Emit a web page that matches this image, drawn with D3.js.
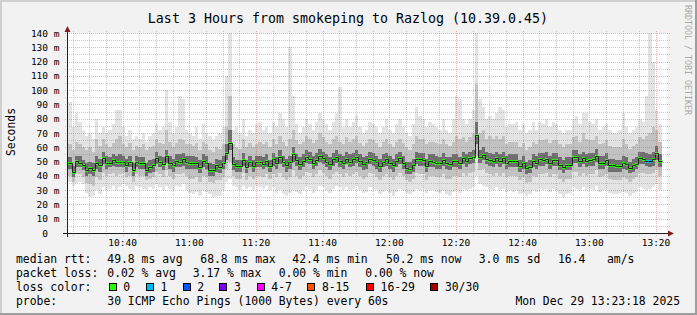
<!DOCTYPE html>
<html>
<head>
<meta charset="utf-8">
<script src="https://cdn.jsdelivr.net/npm/d3@7/dist/d3.min.js"></script>
<style>
body { margin: 0; background: #f2f2f2; }
svg { display: block; }
text { font-family: "DejaVu Sans Mono", monospace; fill: #000; }
</style>
</head>
<body>
<svg id="chart" width="697" height="315"></svg>
<script>
// one value per 60 s step, first step at 10:23:40
var median = [
  48.8, 42.4, 50.2, 49.3, 47.6, 44.1, 45.5, 44.1, 49.3, 47.4,
  52.3, 49.3, 49.3, 50.9, 49.8, 49.8, 49.8, 47.4, 49.8, 44.1,
  49.8, 48.8, 49.3, 44.1, 46.0, 47.4, 52.5, 49.8, 48.3, 53.9,
  49.3, 47.4, 50.6, 49.8, 51.6, 49.8, 49.3, 49.3, 49.3, 46.0,
  50.2, 49.3, 44.1, 44.1, 47.4, 46.4, 48.8, 56.2, 63.3, 48.3,
  46.9, 46.9, 51.1, 46.0, 49.8, 46.9, 49.8, 49.8, 48.5, 50.5,
  47.0, 51.5, 49.0, 53.0, 50.0, 47.5, 49.5, 55.0, 51.0, 48.0,
  50.5, 53.5, 52.0, 49.0, 51.0, 54.0, 52.5, 50.0, 48.5, 51.5,
  53.0, 50.5, 49.0, 52.0, 50.0, 51.5, 53.0, 50.5, 48.0, 49.5,
  52.0, 51.0, 49.5, 47.0, 50.0, 51.5, 49.0, 47.5, 50.5, 52.5,
  48.8, 45.5, 45.1, 47.6, 52.0, 51.6, 51.1, 46.9, 50.2, 49.8,
  49.3, 48.8, 51.1, 48.8, 48.1, 50.2, 50.2, 48.8, 52.5, 50.6,
  52.5, 53.0, 68.8, 53.0, 54.6, 52.0, 51.1, 50.6, 52.5, 50.2,
  52.3, 49.3, 50.6, 50.2, 50.2, 46.9, 49.3, 45.3, 46.4, 50.6,
  48.8, 51.6, 51.1, 52.0, 49.3, 51.1, 51.1, 47.8, 46.0, 47.8,
  47.8, 53.0, 53.0, 50.2, 52.5, 50.2, 51.1, 51.6, 53.9, 48.8,
  49.3, 51.1, 47.4, 47.4, 46.9, 46.9, 49.3, 48.3, 45.5, 47.4,
  48.3, 52.5, 52.0, 50.6, 50.2, 51.6, 55.7, 50.2
];
// lost pings per step
var loss = [
  0,0,0,0,0,0,0,0,0,0, 0,0,0,0,0,0,0,0,0,0, 0,0,0,0,0,0,0,0,0,0,
  0,0,0,0,0,0,0,0,0,0, 0,0,0,0,0,0,0,0,0,0, 0,0,0,0,0,0,0,0,0,0,
  0,0,0,0,0,0,0,0,0,0, 0,0,0,0,0,0,0,0,0,0, 0,0,0,0,0,0,0,0,0,0,
  0,0,0,0,0,0,0,0,0,0, 0,0,0,0,0,0,0,0,0,0, 0,0,0,0,0,0,0,0,0,0,
  0,0,0,0,0,0,0,0,0,0, 0,0,0,0,0,0,0,0,0,0, 0,0,0,0,0,0,0,0,0,0,
  0,0,0,0,0,0,0,0,0,0, 0,0,0,0,0,0,0,0,0,0, 0,0,0,1,1,0,0,0
];
// smoke: fastest / slowest ping and inner percentiles
var pingMin = [
  36,33,35,36,34,28,25,26,30,27, 32,30,31,33,30,32,34,33,31,30,
  33,32,31,30,32,31,34,32,30,33, 31,30,33,32,34,30,28,27,29,26,
  30,29,27,25,26,26,30,36,38,33, 32,30,33,31,32,30,33,32,31,33,
  30,32,28,30,27,26,28,30,29,27, 30,32,31,28,30,33,32,30,28,31,
  33,32,30,32,30,31,33,30,28,29, 32,31,30,27,29,30,28,26,29,31,
  30,28,27,29,31,30,31,28,30,30, 29,28,30,27,26,29,30,28,31,30,
  31,32,40,34,33,32,31,30,32,30, 31,29,30,29,30,27,28,26,27,30,
  29,31,30,31,29,31,30,27,25,27, 28,32,31,30,32,30,31,30,33,29,
  30,31,28,27,27,28,29,28,26,28, 29,32,31,30,31,32,34,30
];
var ping15 = [
  40,36,42,41,39,35,34,33,39,37, 42,40,41,42,40,41,42,39,40,36,
  41,40,40,37,38,39,43,41,39,44, 40,38,41,41,42,40,38,38,39,36,
  40,39,36,35,37,37,39,45,50,40, 38,38,42,37,40,38,40,40,39,41,
  38,41,39,42,39,37,39,44,40,38, 40,43,42,39,41,44,42,40,38,41,
  43,41,39,42,40,41,43,40,38,39, 42,41,39,37,40,41,39,37,40,42,
  40,37,36,38,42,41,41,37,40,40, 39,39,41,38,38,40,40,39,42,40,
  42,43,54,44,45,42,41,40,42,40, 42,39,40,40,40,37,39,35,36,40,
  39,41,41,42,39,41,41,38,36,38, 38,43,43,40,42,40,41,41,44,39,
  40,41,38,37,37,37,39,38,36,38, 39,42,42,41,41,42,45,40
];
var ping35 = [
  45,39,46,46,44,40,41,40,45,43, 48,45,46,47,46,46,46,43,46,40,
  46,45,45,40,42,43,48,46,44,49, 45,43,46,46,47,45,45,45,45,42,
  46,45,40,40,43,42,45,51,58,44, 43,43,47,42,46,43,46,46,45,46,
  43,47,45,48,46,43,45,50,47,44, 46,49,48,45,47,50,48,46,44,47,
  49,46,45,48,46,47,49,46,44,45, 48,47,45,43,46,47,45,43,46,48,
  45,41,41,43,48,47,47,43,46,46, 45,45,47,45,44,46,46,45,48,46,
  48,49,62,49,51,48,47,46,48,46, 48,45,46,46,46,43,45,41,42,46,
  45,47,47,48,45,47,47,44,42,44, 44,49,49,46,48,46,47,47,50,45,
  45,47,43,43,43,43,45,44,42,43, 45,48,48,47,46,47,51,46
];
var ping65 = [
  53,47,54,54,51,49,50,49,54,52, 57,54,53,55,54,55,54,52,54,49,
  54,53,53,49,51,52,57,54,53,58, 54,52,55,55,56,54,54,54,53,51,
  55,54,49,48,52,51,54,62,72,53, 51,51,56,51,54,51,54,54,53,55,
  51,56,53,58,54,52,54,60,55,53, 55,58,57,54,56,59,57,55,53,56,
  58,55,54,57,55,56,58,55,53,54, 57,56,54,52,55,56,54,52,55,57,
  54,50,50,52,57,56,56,52,55,55, 54,53,56,53,53,55,55,53,57,55,
  57,58,78,58,60,57,56,55,57,55, 57,54,55,55,55,51,54,50,51,55,
  54,56,56,57,54,56,56,53,51,53, 53,58,58,55,57,55,56,56,59,54,
  54,56,52,52,51,51,54,53,50,52, 53,57,57,56,55,57,61,55
];
var ping85 = [
  62,58,64,62,60,58,60,57,66,61, 66,62,60,63,66,68,62,60,63,58,
  61,60,62,58,60,61,66,63,62,72, 64,60,63,66,65,62,62,61,63,58,
  64,62,58,57,60,59,62,74,96,62, 60,59,66,60,63,60,62,64,62,64,
  60,66,62,68,64,61,66,72,65,62, 64,68,66,63,65,70,67,64,62,66,
  68,64,62,67,64,66,68,63,61,63, 66,65,63,60,64,66,62,60,64,66,
  63,60,58,62,68,66,66,62,64,64, 63,62,66,62,61,64,68,66,67,64,
  67,70,104,70,72,66,68,66,68,66, 68,62,64,64,64,60,63,58,60,64,
  62,65,65,66,63,65,65,62,60,62, 62,67,68,64,70,66,65,65,68,62,
  63,65,61,60,60,60,66,62,59,61, 62,67,66,68,70,74,72,64
];
var pingMax = [
  92,74,84,78,72,68,70,66,80,70, 74,70,72,76,86,86,74,68,72,66,
  68,66,70,64,68,70,76,72,74,100, 78,70,74,96,94,72,70,68,74,66,
  76,70,68,66,68,70,74,110,140,72, 74,70,80,68,72,70,76,78,72,74,
  70,78,74,84,80,74,130,96,76,70, 74,80,76,72,78,84,80,76,72,78,
  84,102,74,80,74,78,82,74,70,72, 78,76,74,70,74,80,72,70,76,80,
  74,70,68,76,88,82,80,74,78,76, 74,72,80,72,70,80,96,94,80,76,
  80,86,140,94,88,80,82,80,84,88, 86,74,76,76,78,72,76,70,72,78,
  72,78,76,80,74,78,76,72,70,72, 72,80,82,76,84,84,78,76,80,72,
  74,76,72,70,70,72,84,74,70,72, 74,80,78,96,140,120,86,76
];

var lossLabels = ["0", "1", "2", "3", "4-7", "8-15", "16-29", "30/30"];
var lossColors = ["#26ff00", "#00b8ff", "#0059ff", "#7e00ff", "#ff00ff", "#ff5500", "#ff0000", "#a00000"];
var rttStats = ["49.8 ms avg", "68.8 ms max", "42.4 ms min", "50.2 ms now", "3.0 ms sd", "16.4", "am/s"];
var lossStats = ["0.02 % avg", "3.17 % max", "0.00 % min", "0.00 % now"];
var probeText = "30 ICMP Echo Pings (1000 Bytes) every 60s";
var stampText = "Mon Dec 29 13:23:18 2025";
var titleText = "Last 3 Hours from smokeping to Razlog (10.39.0.45)";

var W = 697, H = 315;
var svg = d3.select("#chart");

var tStart = new Date(2025, 11, 29, 10, 23, 18),
    tEnd = new Date(2025, 11, 29, 13, 23, 18),
    tFirst = new Date(2025, 11, 29, 10, 23, 40);

var x = d3.scaleTime().domain([tStart, tEnd]).range([67, 667]);
var y = d3.scaleLinear().domain([0, 140]).range([233, 33]);

var data = median.map(function (m, i) {
  var t = d3.timeSecond.offset(tFirst, i * 60);
  return {t: t, t1: d3.timeSecond.offset(t, 60), m: m, loss: loss[i] || 0,
          lo: pingMin[i], q15: ping15[i], q35: ping35[i], q65: ping65[i], q85: ping85[i], hi: pingMax[i]};
});

// background + 3d frame
svg.append("rect").attr("width", W).attr("height", H).attr("fill", "#f2f2f2");
svg.append("path").attr("d", "M0,0H697V2H2V315H0Z").attr("fill", "#cfcfcf");
svg.append("path").attr("d", "M697,0V315H0V313H695V0Z").attr("fill", "#9e9e9e");
svg.append("rect").attr("x", 67).attr("y", 33).attr("width", 600).attr("height", 200).attr("fill", "#fff");

var plot = svg.append("g").attr("shape-rendering", "crispEdges");

// smoke bands, outer to inner
var bands = [["lo", "hi", "#e3e3e3"], ["q15", "q85", "#c2c2c2"], ["q35", "q65", "#6e6e6e"]];
bands.forEach(function (b) {
  plot.append("g").selectAll("rect").data(data).enter().append("rect")
    .attr("x", d => Math.round(x(d.t)))
    .attr("width", d => Math.round(x(d.t1)) - Math.round(x(d.t)))
    .attr("y", d => Math.round(y(d[b[1]])))
    .attr("height", d => Math.round(y(d[b[0]])) - Math.round(y(d[b[1]])))
    .attr("fill", b[2]);
});

// median line
var pts = data.map(d => [Math.round(x(d.t)) + 0.5, Math.round(y(d.m)) + 0.5]);
var last = data[data.length - 1];
pts.push([Math.round(x(last.t1)) + 0.5, Math.round(y(last.m)) + 0.5]);
svg.append("path")
  .attr("d", d3.line().curve(d3.curveStepAfter)(pts))
  .attr("fill", "none").attr("stroke", "#202020").attr("stroke-width", 1);

// loss coloured median band
plot.append("g").selectAll("rect").data(data).enter().append("rect")
  .attr("x", d => Math.round(x(d.t)))
  .attr("width", d => Math.round(x(d.t1)) - Math.round(x(d.t)))
  .attr("y", d => Math.round(y(d.m)) - 1)
  .attr("height", 3)
  .attr("fill", d => lossColors[d.loss]);

// dotted grid, pixel dots (drawn over the data like rrdtool)
var majorX = x.ticks(d3.timeMinute.every(20)),
    minorX = x.ticks(d3.timeMinute.every(5)).filter(d => d.getMinutes() % 20);
var minorY = d3.range(5, 141, 5).filter(v => v % 10),
    majorY = d3.range(10, 141, 10);

function vDots(px) {
  var s = "";
  for (var py = 31; py <= 235; py += 2) s += "M" + px + "," + py + "h1v1h-1z";
  return s;
}
function hDots(py) {
  var s = "";
  for (var px = 65; px <= 669; px += 2) s += "M" + px + "," + py + "h1v1h-1z";
  return s;
}
var grid = svg.append("g").attr("shape-rendering", "crispEdges");
grid.append("path").attr("fill", "rgba(143,143,143,0.45)")
  .attr("d", minorX.map(d => vDots(Math.round(x(d)))).join("") + minorY.map(v => hDots(Math.round(y(v)))).join(""));
grid.append("path").attr("fill", "rgba(222,79,79,0.45)")
  .attr("d", majorX.map(d => vDots(Math.round(x(d)))).join("") + majorY.map(v => hDots(Math.round(y(v)))).join(""));

// axes with arrows
var axisG = svg.append("g").attr("shape-rendering", "crispEdges");
axisG.append("line").attr("x1", 63).attr("x2", 670).attr("y1", 233.5).attr("y2", 233.5).attr("stroke", "#1f1f1f");
axisG.append("line").attr("x1", 67.5).attr("x2", 67.5).attr("y1", 237).attr("y2", 30).attr("stroke", "#1f1f1f");
svg.append("path").attr("d", "M668,230.5L674,233.5L668,236.5Z").attr("fill", "#801f1f");
svg.append("path").attr("d", "M64.5,32L67.5,26L70.5,32Z").attr("fill", "#801f1f");

// tick labels
var fmt = d3.timeFormat("%H:%M");
svg.append("g").selectAll("text").data(majorX).enter().append("text")
  .attr("x", d => x(d)).attr("y", 245.5)
  .attr("text-anchor", "middle").attr("font-size", "9.5px")
  .text(d => fmt(d));
svg.append("g").selectAll("text").data([0].concat(majorY)).enter().append("text")
  .attr("x", 59.5).attr("y", d => y(d) + 3.6)
  .attr("text-anchor", "end").attr("font-size", "9.5px")
  .style("white-space", "pre")
  .text(d => d ? d + " m" : "0  ");

svg.append("text").attr("transform", "translate(14.5,132) rotate(-90)")
  .attr("text-anchor", "middle").attr("font-size", "11.4px").text("Seconds");

svg.append("text").attr("x", 348).attr("y", 23).attr("text-anchor", "middle")
  .attr("font-size", "13.3px").text(titleText);

svg.append("text").attr("transform", "translate(685,5) rotate(90)")
  .attr("font-size", "8.3px").style("fill", "#a8a8a8").text("RRDTOOL / TOBI OETIKER");

// legend
var leg = svg.append("g").attr("font-size", "11.4px").style("white-space", "pre");
var rowY = [263, 277, 291, 305];
leg.append("text").attr("x", 16).attr("y", rowY[0]).text("median rtt:");
var rttX = [107.3, 200.3, 292.3, 386, 478.7, 558, 607];
rttStats.forEach((s, i) => leg.append("text").attr("x", rttX[i]).attr("y", rowY[0]).text(s));

leg.append("text").attr("x", 16).attr("y", rowY[1]).text("packet loss:");
var lossX = [107.3, 192.7, 278.7, 365.3];
lossStats.forEach((s, i) => leg.append("text").attr("x", lossX[i]).attr("y", rowY[1]).text(s));

leg.append("text").attr("x", 16).attr("y", rowY[2]).text("loss color:");
var boxX = [108.7, 146, 182.7, 219.3, 256.7, 307.3, 366, 430.3];
lossLabels.forEach(function (s, i) {
  leg.append("rect").attr("x", Math.round(boxX[i]) + 0.5).attr("y", 283.5)
    .attr("width", 7).attr("height", 7)
    .attr("fill", lossColors[i]).attr("stroke", "#000").attr("shape-rendering", "crispEdges");
  leg.append("text").attr("x", boxX[i] + 14.6).attr("y", rowY[2]).text(s);
});

leg.append("text").attr("x", 16).attr("y", rowY[3]).text("probe:");
leg.append("text").attr("x", 107.3).attr("y", rowY[3]).text(probeText);
leg.append("text").attr("x", 680).attr("y", rowY[3]).attr("text-anchor", "end").text(stampText);
</script>
</body>
</html>
